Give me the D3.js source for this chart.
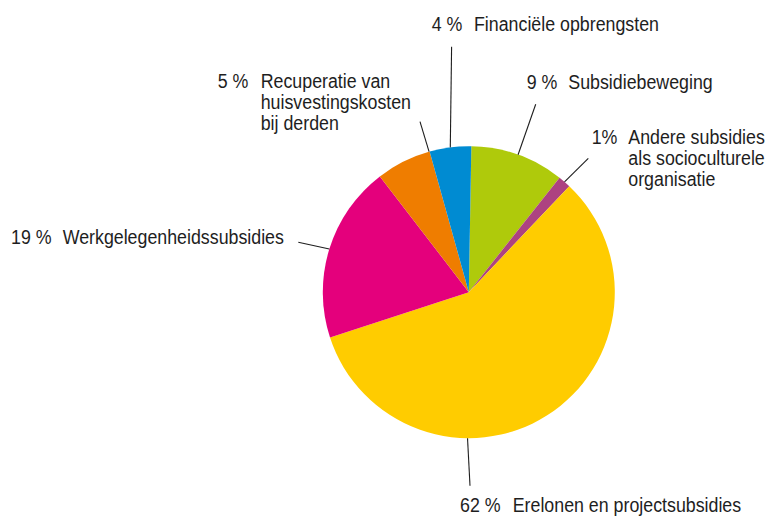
<!DOCTYPE html>
<html><head><meta charset="utf-8">
<script src="https://cdn.jsdelivr.net/npm/d3@7"></script>
<style>
html,body{margin:0;padding:0;background:#fff;}
svg text{font-family:"Liberation Sans",Arial,sans-serif;font-size:20px;fill:#1e1e1e;}
</style></head>
<body><svg id="c" width="773" height="516"></svg>
<script>
// ---- data ----
const categories = ["Subsidiebeweging","Andere subsidies als socioculturele organisatie","Erelonen en projectsubsidies","Werkgelegenheidssubsidies","Recuperatie van huisvestingskosten bij derden","Financiële opbrengsten"];
const shares = [10.4, 1.4, 57.9, 19.6, 6.1, 4.6];          // slice sizes as drawn
const pctLabels = ["9 %", "1%", "62 %", "19 %", "5 %", "4 %"];
const labelLines = [["Subsidiebeweging"],["Andere subsidies","als socioculturele","organisatie"],["Erelonen en projectsubsidies"],["Werkgelegenheidssubsidies"],["Recuperatie van","huisvestingskosten","bij derden"],["Financiële opbrengsten"]];
const colors = ["#afca0b","#ad4281","#ffcc00","#e4007c","#ef7d00","#008bd2"];

// ---- layout ----
const cx = 468.8, cy = 292.2, R = 146;
const condense = 0.89;
const layout = [
  {px:526.7, tx:568.3, y:89.3,  lh:21, lineOut:[535.7,104.3], leaderDeg:null},
  {px:591.7, tx:628.3, y:144,   lh:21, lineOut:[588.3,158.3], leaderDeg:null},
  {px:460,   tx:512.7, y:511.7, lh:21, lineOut:[470,485.7],   leaderDeg:180.5},
  {px:11,    tx:62.7,  y:244.3, lh:21, lineOut:[298.3,242.3], leaderDeg:null},
  {px:217.7, tx:260.7, y:88.3,  lh:20.9, lineOut:[420,121.7], leaderDeg:344.2},
  {px:431.7, tx:474,   y:30.7,  lh:21, lineOut:[451.6,46.7],  leaderDeg:null}
];

const svg = d3.select("#c");
const g = svg.append("g").attr("transform",`translate(${cx},${cy})`);
const rad = Math.PI/180;
const pie = d3.pie().sort(null).value(d=>d).startAngle(1*rad).endAngle(361*rad);
const arcs = pie(shares);
const arc = d3.arc().innerRadius(0).outerRadius(R);
g.selectAll("path.slice").data(arcs).enter().append("path")
  .attr("class","slice").attr("d",arc).attr("fill",(d,i)=>colors[i]);

function condText(x,y,lines,lh){
  const t = svg.append("g").attr("transform",`translate(${x},${y}) scale(${condense},1)`).append("text");
  lines.forEach((ln,k)=>t.append("tspan").attr("x",0).attr("y",k*lh).text(ln));
}

arcs.forEach((d,i)=>{
  const L = layout[i];
  const a = L.leaderDeg!==null ? L.leaderDeg*rad : (d.startAngle+d.endAngle)/2;
  const x1 = cx + R*Math.sin(a), y1 = cy - R*Math.cos(a);
  svg.append("line").attr("x1",x1).attr("y1",y1).attr("x2",L.lineOut[0]).attr("y2",L.lineOut[1])
    .attr("stroke","#1e1e1e").attr("stroke-width",1.1);
  condText(L.px, L.y, [pctLabels[i]], L.lh);
  condText(L.tx, L.y, labelLines[i], L.lh);
});
</script></body></html>
